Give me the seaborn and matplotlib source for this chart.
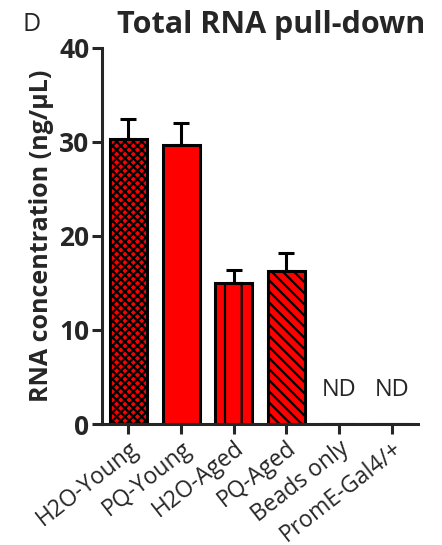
import numpy as np
import pandas as pd
import matplotlib
matplotlib.use("Agg")
import matplotlib.pyplot as plt
import seaborn as sns

# data
groups = ["H2O-Young", "PQ-Young", "H2O-Aged", "PQ-Aged", "Beads only", "PromE-Gal4/+"]
means = [30.3, 29.7, 15.0, 16.3, 0.0, 0.0]
sems = [2.1, 2.3, 1.4, 1.9, 0.0, 0.0]
hatches = ["xxxx", "", "|", "\\\\\\", "", ""]
nd_groups = ["Beads only", "PromE-Gal4/+"]

sns.set_style("ticks")
plt.rcParams["font.family"] = ["Open Sans", "DejaVu Sans"]
plt.rcParams["hatch.linewidth"] = 1.6

df = pd.DataFrame({"group": groups, "conc": means})

fig = plt.figure(figsize=(4.42, 5.45), dpi=100)
ax = fig.add_axes([0.231, 0.222, 0.715, 0.690])

sns.barplot(data=df, x="group", y="conc", color="#ff0000", width=0.7,
            edgecolor="black", linewidth=2.2, saturation=1, ax=ax)

for patch, h in zip(ax.patches, hatches):
    patch.set_hatch(h)

# upper error bars only
idx = np.arange(len(groups))
ax.errorbar(idx[:4], means[:4], yerr=[np.zeros(4), sems[:4]], fmt="none",
            ecolor="black", elinewidth=2.2, capsize=6, capthick=2.2, zorder=3)

for g in nd_groups:
    ax.text(groups.index(g), 3.6, "ND", ha="center", va="center", fontsize=17)

ax.set_xlim(-0.5, 5.5)
ax.set_ylim(0, 40)
ax.set_yticks([0, 10, 20, 30, 40])
ax.set_xlabel("")
ax.set_ylabel("RNA concentration (ng/μL)", fontsize=18, fontweight="bold", labelpad=4)
ax.tick_params(axis="y", labelsize=19, width=2.2, length=7, pad=2)
ax.tick_params(axis="x", labelsize=16.5, width=2.2, length=7, pad=2)
for lab in ax.get_yticklabels():
    lab.set_fontweight("bold")
plt.setp(ax.get_xticklabels(), rotation=38, ha="right", rotation_mode="anchor")
sns.despine(ax=ax)
for s in ["left", "bottom"]:
    ax.spines[s].set_linewidth(2.2)

fig.text(0.265, 0.955, "Total RNA pull-down", fontsize=22, fontweight="bold", va="center")
fig.text(0.05, 0.955, "D", fontsize=18, va="center")

fig.savefig("out.png", dpi=100)
